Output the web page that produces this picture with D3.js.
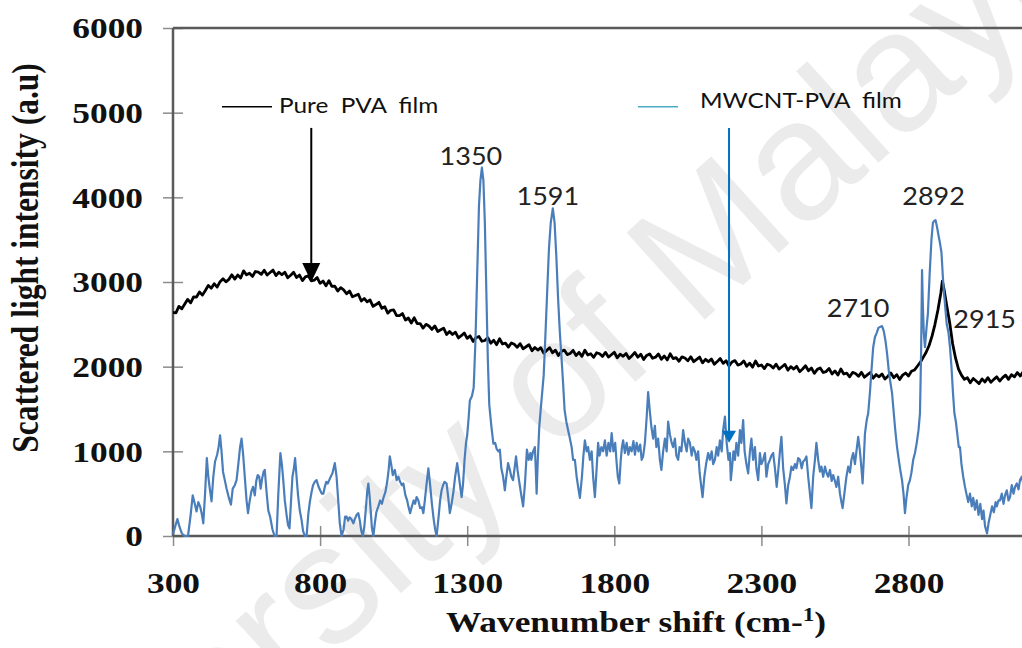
<!DOCTYPE html>
<html>
<head>
<meta charset="utf-8">
<script src="https://cdn.jsdelivr.net/npm/d3@7"></script>
<style>
  html, body { margin: 0; padding: 0; background: #fff; overflow: hidden; }
  svg { display: block; }
</style>
</head>
<body>
<svg id="chart" width="1022" height="648"></svg>
<script>
// ---- data -------------------------------------------------------------
const xTickValues = [300, 800, 1300, 1800, 2300, 2800];
const yTickValues = [0, 1000, 2000, 3000, 4000, 5000, 6000];

// Raman spectrum of the pure PVA film: [wavenumber shift, intensity]
const pvaSpectrum = [
  [300,2640],[310,2636],[320,2712],[330,2683],[340,2739],[350,2795],[360,2754],[370,2823],[380,2822],[390,2881],
  [400,2845],[410,2900],[420,2960],[430,2925],[440,2980],[450,2940],[460,3004],[470,3038],[480,3002],[490,3031],
  [500,3085],[510,3034],[520,3083],[530,3047],[540,3131],[550,3085],[560,3103],[570,3066],[580,3124],[590,3117],
  [600,3090],[610,3139],[620,3083],[630,3112],[640,3141],[650,3075],[660,3115],[670,3085],[680,3115],[690,3050],
  [700,3080],[710,3114],[720,3053],[730,3082],[740,3016],[750,3060],[760,3072],[770,3014],[780,3021],[790,3053],
  [800,2985],[810,3012],[820,2954],[830,3016],[840,2948],[850,2950],[860,2894],[870,2933],[880,2907],[890,2861],
  [900,2895],[910,2825],[920,2840],[930,2855],[940,2775],[950,2805],[960,2766],[970,2787],[980,2713],[990,2734],
  [1000,2760],[1010,2689],[1020,2708],[1030,2632],[1040,2666],[1050,2670],[1060,2604],[1070,2603],[1080,2627],[1090,2551],
  [1100,2575],[1110,2516],[1120,2577],[1130,2508],[1140,2509],[1150,2455],[1160,2500],[1170,2480],[1180,2440],[1190,2480],
  [1200,2415],[1210,2435],[1220,2455],[1230,2380],[1240,2415],[1250,2380],[1260,2407],[1270,2339],[1280,2366],[1290,2398],
  [1300,2335],[1310,2364],[1320,2298],[1330,2342],[1340,2356],[1350,2300],[1360,2309],[1370,2343],[1380,2277],[1390,2311],
  [1400,2260],[1410,2329],[1420,2268],[1430,2277],[1440,2231],[1450,2280],[1460,2264],[1470,2228],[1480,2272],[1490,2211],
  [1500,2235],[1510,2259],[1520,2188],[1530,2227],[1540,2196],[1550,2225],[1560,2160],[1570,2190],[1580,2225],[1590,2165],
  [1600,2195],[1610,2132],[1620,2179],[1630,2196],[1640,2143],[1650,2155],[1660,2193],[1670,2131],[1680,2169],[1690,2122],
  [1700,2195],[1710,2138],[1720,2152],[1730,2110],[1740,2164],[1750,2152],[1760,2121],[1770,2169],[1780,2113],[1790,2141],
  [1800,2170],[1810,2104],[1820,2148],[1830,2122],[1840,2156],[1850,2095],[1860,2129],[1870,2168],[1880,2112],[1890,2146],
  [1900,2085],[1910,2133],[1920,2151],[1930,2099],[1940,2112],[1950,2150],[1960,2088],[1970,2126],[1980,2079],[1990,2152],
  [2000,2095],[2010,2107],[2020,2064],[2030,2116],[2040,2103],[2050,2070],[2060,2117],[2070,2059],[2080,2086],[2090,2113],
  [2100,2045],[2110,2087],[2120,2059],[2130,2091],[2140,2028],[2150,2060],[2160,2097],[2170,2039],[2180,2071],[2190,2008],
  [2200,2055],[2210,2072],[2220,2019],[2230,2031],[2240,2068],[2250,2005],[2260,2042],[2270,1994],[2280,2066],[2290,2008],
  [2300,2020],[2310,1977],[2320,2029],[2330,2016],[2340,1983],[2350,2030],[2360,1972],[2370,1999],[2380,2026],[2390,1958],
  [2400,2000],[2410,1972],[2420,2004],[2430,1941],[2440,1973],[2450,2010],[2460,1952],[2470,1984],[2480,1921],[2490,1968],
  [2500,1985],[2510,1931],[2520,1942],[2530,1978],[2540,1914],[2550,1950],[2560,1901],[2570,1972],[2580,1913],[2590,1924],
  [2600,1880],[2610,1932],[2620,1919],[2630,1886],[2640,1933],[2650,1875],[2660,1903],[2670,1931],[2680,1864],[2690,1907],
  [2700,1880],[2710,1914],[2720,1853],[2730,1887],[2740,1926],[2750,1870],[2760,1906],[2770,1848],[2780,1900],[2790,1925],
  [2800,1890],[2810,1945],[2820,1960],[2830,2005],[2840,2050],[2850,2110],[2860,2170],[2870,2250],[2880,2360],[2890,2500],
  [2900,2670],[2910,2870],[2915,3010],[2920,2930],[2930,2720],[2940,2520],[2950,2270],[2960,2100],[2970,1970],[2980,1900],
  [2990,1850],[3000,1870],[3010,1810],[3020,1860],[3030,1830],[3040,1800],[3050,1855],[3060,1820],[3070,1870],[3080,1815],
  [3090,1850],[3100,1880],[3110,1830],[3120,1870],[3130,1900],[3140,1850],[3150,1905],[3160,1880],[3170,1930],[3180,1890],
  [3190,1940],[3200,1900]
];

// Raman spectrum of the MWCNT-PVA film: [wavenumber shift, intensity]
const mwcntSpectrum = [
  [300,20],[308,120],[315,200],[322,110],[330,30],[340,0],[351,0],[360,250],[367,480],[374,380],
  [380,290],[386,400],[392,350],[398,260],[403,150],[409,500],[415,920],[420,700],[425,560],[431,410],
  [437,700],[443,880],[450,960],[455,1050],[460,1190],[465,1000],[470,760],[476,660],[482,560],[490,450],
  [497,370],[503,560],[510,600],[516,660],[522,850],[528,1050],[533,1150],[538,980],[544,700],[550,420],
  [555,270],[560,400],[566,520],[572,580],[578,480],[583,650],[588,720],[593,700],[598,560],[603,680],
  [608,760],[612,780],[618,520],[624,300],[630,230],[638,80],[645,0],[652,0],[658,500],[665,980],
  [670,850],[675,650],[680,420],[686,250],[691,130],[696,90],[701,400],[706,700],[711,800],[715,920],
  [720,700],[725,480],[731,300],[737,190],[742,60],[748,0],[754,0],[760,260],[765,400],[771,520],
  [776,600],[782,640],[788,660],[794,590],[800,540],[806,500],[811,500],[816,580],[821,640],[826,620],
  [831,660],[836,700],[842,740],[846,800],[850,860],[856,700],[862,400],[867,150],[873,0],[880,80],
  [885,230],[890,230],[895,180],[900,220],[906,200],[913,150],[918,200],[924,250],[930,270],[935,180],
  [940,60],[945,0],[950,100],[955,300],[960,520],[964,620],[968,480],[972,300],[976,100],[981,0],
  [986,150],[991,280],[998,350],[1004,420],[1010,380],[1016,460],[1022,520],[1028,640],[1033,780],[1037,940],
  [1042,840],[1047,720],[1054,780],[1060,660],[1066,700],[1072,640],[1078,600],[1083,620],[1090,480],[1096,420],
  [1100,350],[1106,270],[1112,350],[1118,420],[1123,380],[1128,460],[1134,420],[1140,330],[1146,340],[1151,270],
  [1156,420],[1162,620],[1168,800],[1174,600],[1180,380],[1186,200],[1191,80],[1196,0],[1202,200],[1208,420],
  [1213,540],[1218,600],[1223,640],[1230,620],[1236,440],[1241,270],[1247,380],[1253,520],[1259,700],[1266,860],
  [1272,700],[1277,560],[1281,460],[1286,620],[1291,900],[1296,1100],[1300,1190],[1305,1400],[1309,1600],[1316,1650],
  [1322,1750],[1328,2300],[1334,3100],[1340,3900],[1345,4200],[1350,4350],[1355,4200],[1360,3700],[1365,2900],[1370,2100],
  [1375,1550],[1382,1300],[1389,1090],[1395,1100],[1400,1030],[1406,1000],[1411,1020],[1416,800],[1422,700],[1428,540],
  [1433,700],[1439,860],[1445,780],[1450,700],[1456,660],[1461,800],[1466,940],[1471,780],[1476,660],[1483,500],
  [1490,350],[1496,600],[1503,1020],[1509,900],[1515,980],[1518,900],[1524,1000],[1530,1050],[1533,800],[1536,500],
  [1540,900],[1545,1290],[1550,1500],[1555,1700],[1560,1900],[1565,2300],[1572,2900],[1578,3400],[1584,3700],[1591,3870],
  [1597,3700],[1603,3300],[1609,2800],[1615,2400],[1621,2080],[1626,1800],[1631,1490],[1637,1350],[1643,1250],[1648,1170],
  [1655,1050],[1660,900],[1666,900],[1672,700],[1678,560],[1683,450],[1690,700],[1695,950],[1700,1130],[1706,1000],
  [1711,1050],[1717,900],[1723,1000],[1728,700],[1734,460],[1740,800],[1745,1100],[1750,950],[1756,1050],[1762,1000],
  [1768,1130],[1774,950],[1780,1100],[1786,1000],[1791,1215],[1797,1000],[1803,1100],[1808,860],[1812,700],[1817,620],
  [1822,900],[1826,1050],[1830,1130],[1836,980],[1842,1100],[1848,960],[1853,1050],[1859,1000],[1865,1120],[1870,960],
  [1876,1100],[1882,1000],[1888,1080],[1893,900],[1898,940],[1904,1100],[1910,1400],[1915,1700],[1920,1500],[1926,1290],
  [1932,1150],[1938,1300],[1943,1050],[1949,1150],[1955,900],[1960,780],[1966,1000],[1972,1150],[1978,1000],[1983,1350],
  [1989,1200],[1995,1100],[2000,1050],[2006,1150],[2011,950],[2017,900],[2022,1050],[2028,1000],[2034,1250],[2040,1100],
  [2046,1000],[2051,1150],[2057,1100],[2063,950],[2068,1050],[2074,1000],[2079,900],[2085,1000],[2090,750],[2095,600],
  [2100,460],[2106,700],[2112,850],[2119,980],[2125,900],[2131,1000],[2136,850],[2142,900],[2148,1050],[2153,950],
  [2159,1130],[2165,1000],[2170,1250],[2176,1410],[2182,1100],[2188,900],[2193,980],[2196,660],[2200,800],[2205,1000],
  [2210,900],[2215,1100],[2221,950],[2227,1250],[2232,1100],[2238,1370],[2243,1000],[2249,850],[2255,740],[2261,1000],
  [2266,1150],[2272,900],[2278,1050],[2283,800],[2289,660],[2295,980],[2300,850],[2306,900],[2312,980],[2317,700],
  [2323,850],[2329,900],[2334,950],[2340,980],[2346,800],[2352,580],[2358,800],[2363,1000],[2368,1170],[2374,800],
  [2380,600],[2385,385],[2391,600],[2397,700],[2402,820],[2408,780],[2414,850],[2419,800],[2425,920],[2431,900],
  [2437,800],[2442,880],[2448,900],[2453,940],[2459,700],[2465,500],[2470,330],[2476,700],[2482,900],[2487,1100],
  [2493,900],[2499,760],[2504,820],[2510,700],[2516,820],[2521,750],[2527,700],[2533,780],[2539,650],[2544,720],
  [2550,650],[2555,580],[2561,700],[2567,500],[2572,400],[2576,330],[2582,500],[2589,700],[2595,820],[2601,750],
  [2606,900],[2612,980],[2618,850],[2623,1000],[2629,1170],[2635,1000],[2640,800],[2644,620],[2648,900],[2652,1210],
  [2658,1370],[2663,1450],[2669,1700],[2674,1950],[2680,2230],[2686,2350],[2692,2400],[2698,2460],[2704,2470],[2710,2480],
  [2716,2420],[2722,2300],[2727,2160],[2733,1950],[2739,1800],[2744,1690],[2750,1450],[2755,1250],[2761,1050],[2767,900],
  [2772,780],[2778,660],[2783,500],[2788,270],[2793,450],[2799,600],[2805,660],[2810,750],[2816,900],[2822,980],
  [2828,1100],[2834,1250],[2839,1450],[2843,2200],[2846,3140],[2849,2700],[2852,2400],[2856,2230],[2861,2450],[2866,2630],
  [2872,3100],[2878,3500],[2883,3700],[2887,3720],[2892,3730],[2897,3650],[2902,3550],[2907,3460],[2912,3350],[2917,3050],
  [2920,2900],[2925,2700],[2930,2500],[2936,2400],[2941,2230],[2946,2000],[2951,1700],[2956,1450],[2961,1350],[2966,1200],
  [2971,1050],[2975,1050],[2980,850],[2986,700],[2992,580],[2998,480],[3003,400],[3009,500],[3015,350],[3020,450],
  [3026,310],[3032,420],[3038,250],[3044,380],[3050,200],[3055,300],[3060,120],[3067,30],[3072,150],[3078,250],
  [3084,350],[3090,280],[3096,400],[3100,350],[3106,420],[3111,420],[3117,500],[3123,380],[3128,480],[3134,540],
  [3140,420],[3145,460],[3151,600],[3157,500],[3162,580],[3168,620],[3174,550],[3179,660],[3185,700],[3190,620]
];

// Peak annotations: label text, peak shift and the spectrum it belongs to
const peakLabels = ["1350", "1591", "2710", "2892", "2915"];
const peakShifts = [1350, 1591, 2710, 2892, 2915];
const peakSeries = ["mwcnt", "mwcnt", "mwcnt", "mwcnt", "pva"];

const seriesNames = ["Pure  PVA  film", "MWCNT-PVA  film"];

// ---- layout -------------------------------------------------------------
const svg = d3.select("#chart");
const plotLeft = 173, plotTop = 28, plotBottom = 536;
const pxPerUnit = 0.2942;   // horizontal pixels per cm-1

const x = d3.scaleLinear().domain([300, 3300]).range([plotLeft, plotLeft + 3000 * pxPerUnit]);
const y = d3.scaleLinear().domain([0, 6000]).range([plotBottom, plotTop]);

const serif = "'Liberation Serif', 'Times New Roman', serif";
const sans = "Lato, 'Open Sans', sans-serif";
const stretch = 1.22;   // wide tick/axis lettering

// faint background watermark
svg.append("text")
  .attr("transform", "translate(533,474) rotate(-42)")
  .attr("text-anchor", "middle")
  .attr("font-family", "'Liberation Sans', Arial, sans-serif")
  .attr("font-size", 170)
  .attr("fill", "#ebebeb")
  .text("University of Malaya");

// ---- axes ----------------------------------------------------------------
const yAxis = d3.axisLeft(y).tickValues(yTickValues).tickFormat(d3.format("d")).tickSize(10).tickPadding(0);
const gy = svg.append("g").attr("transform", `translate(${plotLeft},0)`).call(yAxis);
gy.select(".domain").remove();
gy.selectAll(".tick line").attr("x1", 10).attr("x2", -10).attr("stroke", "#8c8c8c").attr("stroke-width", 1.5);
gy.selectAll(".tick text")
  .attr("x", -30 / stretch)
  .attr("dy", "0.34em")
  .attr("transform", `scale(${stretch},1)`)
  .attr("font-family", serif).attr("font-weight", "bold").attr("font-size", 29).attr("fill", "#111");

const xAxis = d3.axisBottom(x).tickValues(xTickValues).tickFormat(d3.format("d")).tickSize(10).tickPadding(0);
const gx = svg.append("g").attr("transform", `translate(0,${plotBottom})`).call(xAxis);
gx.select(".domain").remove();
gx.selectAll(".tick line").attr("y1", -10).attr("y2", 10).attr("stroke", "#8c8c8c").attr("stroke-width", 1.5);
gx.selectAll(".tick text")
  .attr("x", 0).attr("y", 57).attr("dy", 0)
  .attr("transform", `scale(${stretch},1)`)
  .attr("font-family", serif).attr("font-weight", "bold").attr("font-size", 29).attr("fill", "#111");

// frame: left, bottom and top edges of the plot area
const frame = svg.append("g").attr("stroke", "#5a5a5a").attr("stroke-width", 2.5).attr("fill", "none");
frame.append("line").attr("x1", plotLeft).attr("x2", plotLeft).attr("y1", plotTop).attr("y2", plotBottom);
frame.append("line").attr("x1", plotLeft).attr("x2", x(3300)).attr("y1", plotBottom).attr("y2", plotBottom);
frame.append("line").attr("x1", plotLeft).attr("x2", x(3300)).attr("y1", plotTop).attr("y2", plotTop);

// axis titles
svg.append("text")
  .attr("transform", `translate(636,632) scale(${stretch},1)`)
  .attr("text-anchor", "middle")
  .attr("font-family", serif).attr("font-weight", "bold").attr("font-size", 29).attr("fill", "#111")
  .call(t => {
    t.append("tspan").text("Wavenumber shift (cm-");
    t.append("tspan").attr("dy", -11).attr("font-size", 19).text("1");
    t.append("tspan").attr("dy", 11).text(")");
  });

svg.append("text")
  .attr("transform", `translate(38,258) scale(${stretch},1) rotate(-90)`)
  .attr("text-anchor", "middle")
  .attr("font-family", serif).attr("font-weight", "bold").attr("font-size", 31.5).attr("fill", "#111")
  .text("Scattered light intensity (a.u)");

// ---- spectra -------------------------------------------------------------
const line = d3.line().x(d => x(d[0])).y(d => y(d[1]));

svg.append("path")
  .datum(pvaSpectrum)
  .attr("d", line)
  .attr("fill", "none")
  .attr("stroke", "#000")
  .attr("stroke-width", 2.8)
  .attr("stroke-linejoin", "round");

svg.append("path")
  .datum(mwcntSpectrum)
  .attr("d", line)
  .attr("fill", "none")
  .attr("stroke", "#4a7ebb")
  .attr("stroke-width", 2.2)
  .attr("stroke-linejoin", "round");

// ---- peak labels -----------------------------------------------------------
const seriesData = { mwcnt: mwcntSpectrum, pva: pvaSpectrum };
const labelOffset = {   // [dx, dy, anchor] relative to the peak maximum
  "1350": [-11, -3, "middle"],
  "1591": [-5, -3, "middle"],
  "2710": [-24, -9, "middle"],
  "2892": [-2, -15, "middle"],
  "2915": [11, 47, "start"]
};
const labelStretch = 1.08;
peakLabels.forEach((lab, i) => {
  const data = seriesData[peakSeries[i]];
  const pt = data.find(d => d[0] === peakShifts[i]);
  const [dx, dy, anchor] = labelOffset[lab];
  svg.append("text")
    .attr("transform", `translate(${x(pt[0]) + dx},${y(pt[1]) + dy}) scale(${labelStretch},1)`)
    .attr("text-anchor", anchor)
    .attr("font-family", sans).attr("font-size", 25).attr("fill", "#222")
    .text(lab);
});

// ---- series legends with pointer arrows -----------------------------------
const legendY = y(5070);
const arrowTop = y(4820);
const legendStretch = 1.16;

// pure PVA
svg.append("line")
  .attr("x1", 222).attr("x2", 272).attr("y1", legendY).attr("y2", legendY)
  .attr("stroke", "#000").attr("stroke-width", 1.5);
svg.append("text")
  .attr("transform", `translate(279,${legendY + 6}) scale(${legendStretch},1)`)
  .attr("font-family", sans).attr("font-size", 21).attr("fill", "#111")
  .attr("xml:space", "preserve")
  .text(seriesNames[0]);

// MWCNT-PVA
svg.append("line")
  .attr("x1", 638).attr("x2", 678).attr("y1", legendY).attr("y2", legendY)
  .attr("stroke", "#4bacc6").attr("stroke-width", 1.5);
svg.append("text")
  .attr("transform", `translate(700,${legendY + 1}) scale(${legendStretch},1)`)
  .attr("font-family", sans).attr("font-size", 21).attr("fill", "#111")
  .attr("xml:space", "preserve")
  .text(seriesNames[1]);

function arrow(shift, tipValue, color, headW, headH, width) {
  const ax = x(shift), tip = y(tipValue);
  svg.append("line")
    .attr("x1", ax).attr("x2", ax).attr("y1", arrowTop).attr("y2", tip - headH + 1)
    .attr("stroke", color).attr("stroke-width", width);
  svg.append("path")
    .attr("d", `M${ax - headW / 2},${tip - headH} L${ax + headW / 2},${tip - headH} L${ax},${tip} Z`)
    .attr("fill", color);
}
arrow(770, 3000, "#000", 18, 19, 2);
arrow(2190, 1100, "#0070c0", 14, 12, 2);
</script>
</body>
</html>
